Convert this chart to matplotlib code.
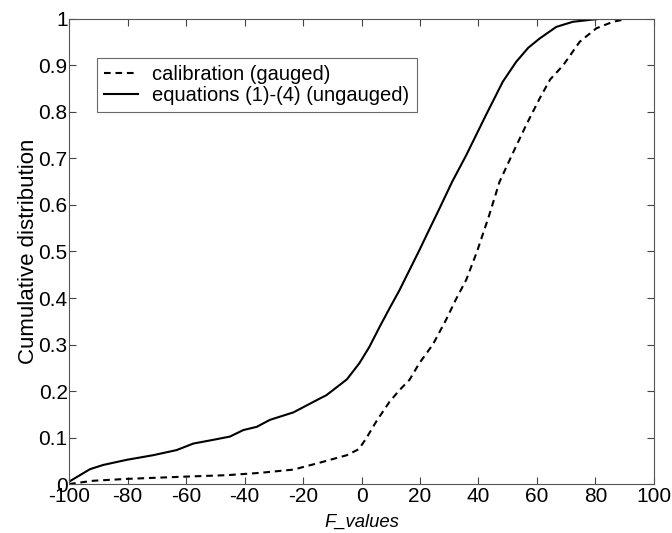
import matplotlib
matplotlib.use("Agg")
import matplotlib.pyplot as plt

plt.rcParams['font.family'] = ['Liberation Sans', 'DejaVu Sans']
plt.rcParams['axes.unicode_minus'] = False

# calibration (gauged) - dashed curve
f_gauged = [-100, -91.7, -80.3, -59.8, -46, -34.7, -23.3, -14.2, -5, -0.9,
            1.6, 5, 9.6, 13, 16.4, 19.8, 24.4, 28.9, 32.2, 35.8, 39.5, 43.5,
            47.2, 52, 56.3, 60.9, 64.5, 68.9, 74.6, 80.3, 86, 90.6]
c_gauged = [0, 0.007, 0.011, 0.016, 0.019, 0.024, 0.031, 0.046, 0.062, 0.075,
            0.098, 0.134, 0.177, 0.202, 0.224, 0.26, 0.30, 0.353, 0.396,
            0.439, 0.50, 0.575, 0.65, 0.715, 0.772, 0.829, 0.87, 0.90, 0.951,
            0.98, 0.994, 1.0]

# equations (1)-(4) (ungauged) - solid curve
f_ungauged = [-100, -92.8, -88.3, -80.3, -71.2, -63.2, -57.5, -50.7, -45,
              -40.4, -35.8, -31.3, -23.3, -14.2, -12, -5, -0.7, 2.7, 6.2,
              9.6, 13, 16.4, 19.8, 23, 26.7, 31, 35.8, 42.6, 48.3, 52.9, 57,
              60.9, 66.6, 72.3, 78, 81, 90]
c_ungauged = [0.005, 0.032, 0.041, 0.052, 0.062, 0.073, 0.087, 0.095, 0.102,
              0.116, 0.123, 0.138, 0.154, 0.184, 0.191, 0.225, 0.26, 0.295,
              0.338, 0.378, 0.417, 0.46, 0.503, 0.545, 0.593, 0.65, 0.707,
              0.794, 0.865, 0.908, 0.938, 0.958, 0.983, 0.994, 0.998, 1.0,
              1.0]

fig = plt.figure(figsize=(6.72, 5.33), dpi=100)
ax = fig.add_axes([0.1027, 0.0919, 0.8705, 0.8725])

ax.plot(f_gauged, c_gauged, color='black', linestyle='--', linewidth=1.5,
        dashes=(3.2, 2.3), label='calibration (gauged)')
ax.plot(f_ungauged, c_ungauged, color='black', linestyle='-', linewidth=1.5,
        label='equations (1)-(4) (ungauged)')

ax.set_xlim(-100, 100)
ax.set_ylim(0, 1)
ax.set_xticks(range(-100, 101, 20))
ax.set_yticks([i / 10 for i in range(11)])
ax.set_yticklabels(['0', '0.1', '0.2', '0.3', '0.4', '0.5', '0.6', '0.7',
                    '0.8', '0.9', '1'])
ax.tick_params(direction='in', labelsize=15, length=5, width=0.8,
               top=True, right=True, colors='#444444', labelcolor='black')
ax.tick_params(axis='x', pad=2)
ax.tick_params(axis='y', pad=1)
for s in ax.spines.values():
    s.set_color('#555555')
    s.set_linewidth(0.8)

ax.set_xlabel('F_values', fontsize=13.3, style='italic', labelpad=6)
ax.set_ylabel('Cumulative distribution', fontsize=16, labelpad=0)

leg = ax.legend(loc='upper left', bbox_to_anchor=(0.048, 0.916), fontsize=14.5,
                frameon=True, fancybox=False, edgecolor='#444444',
                handlelength=1.7, borderpad=0.35, labelspacing=0.1,
                handletextpad=0.7, borderaxespad=0)
leg.get_frame().set_linewidth(0.8)

fig.savefig('out.png', dpi=100)
